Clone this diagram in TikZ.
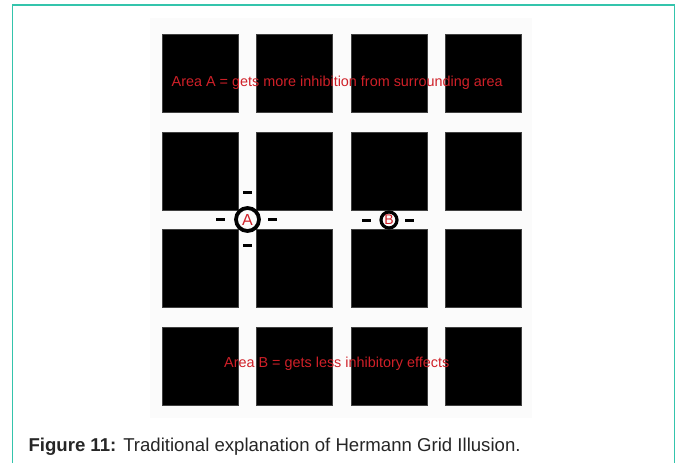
\documentclass[tikz,border=0pt]{standalone}
\usepackage{fontspec}
\setmainfont{Liberation Sans}
\usepackage{tikz}
\definecolor{frameteal}{RGB}{52,196,172}
\definecolor{labelred}{RGB}{208,32,40}
\definecolor{captiongray}{RGB}{38,38,38}
\tikzstyle{cell}=[rectangle, fill=black, draw=black!75, line width=0.6pt, minimum width=76pt, minimum height=78pt, inner sep=0pt]
\tikzstyle{dashmark}=[rectangle, fill=black, minimum width=9pt, minimum height=3pt, inner sep=0pt]
\tikzstyle{spot}=[circle, draw=black, inner sep=0pt, text=labelred]
\tikzstyle{areatext}=[anchor=base west, inner sep=0pt, text=labelred, font=\fontsize{14.4}{16}\selectfont]

\begin{document}
\begin{tikzpicture}[x=1pt, y=-1pt]
		   \useasboundingbox (0,0) rectangle (677,463);
		   \begin{scope}
			   % grid background and squares
			   \fill[black!1.5] (150,18) rectangle (532,418);
			   \foreach \r/\y in {1/73, 2/170.8, 3/268.6, 4/366.4} {
				   \foreach \c/\x in {1/200.5, 2/294.7, 3/388.9, 4/483.1} {
					   \node (s\r\c) at (\x, \y)[cell] {};
				   }
			   }
		   \end{scope}
		   \begin{scope}
			   \node (A) at (247.5, 219.5)[spot, line width=3.8pt, minimum size=23pt, font=\fontsize{16}{16}\selectfont] {A};
			   \node (B) at (389, 220)[spot, line width=3.2pt, minimum size=16pt, font=\fontsize{14}{14}\selectfont] {B};

			   \node (a1) at (220.5, 219.5)[dashmark] {};
			   \node (a2) at (272.5, 219.5)[dashmark] {};
			   \node (a3) at (247.5, 192.7)[dashmark] {};
			   \node (a4) at (247.5, 245.7)[dashmark] {};

			   \node (b1) at (366.5, 220)[dashmark] {};
			   \node (b2) at (409.5, 220)[dashmark] {};

			   \node (textA) at (171.5, 86.5)[areatext] {Area A = gets more inhibition from surrounding area};
			   \node (textB) at (224, 367.5)[areatext] {Area B = gets less inhibitory effects};
		   \end{scope}
		   \begin{scope}
			   \draw[frameteal, line width=1.5pt] (12.7,463) -- (12.7,5) -- (674.3,5) -- (674.3,463);
			   \node (caption) at (28.3, 451.5)[anchor=base west, inner sep=0pt, text=captiongray, font=\fontsize{18.6}{20}\selectfont] {\textbf{Figure 11:} Traditional explanation of Hermann Grid Illusion.};
		   \end{scope}
	   \end{tikzpicture}
\end{document}
